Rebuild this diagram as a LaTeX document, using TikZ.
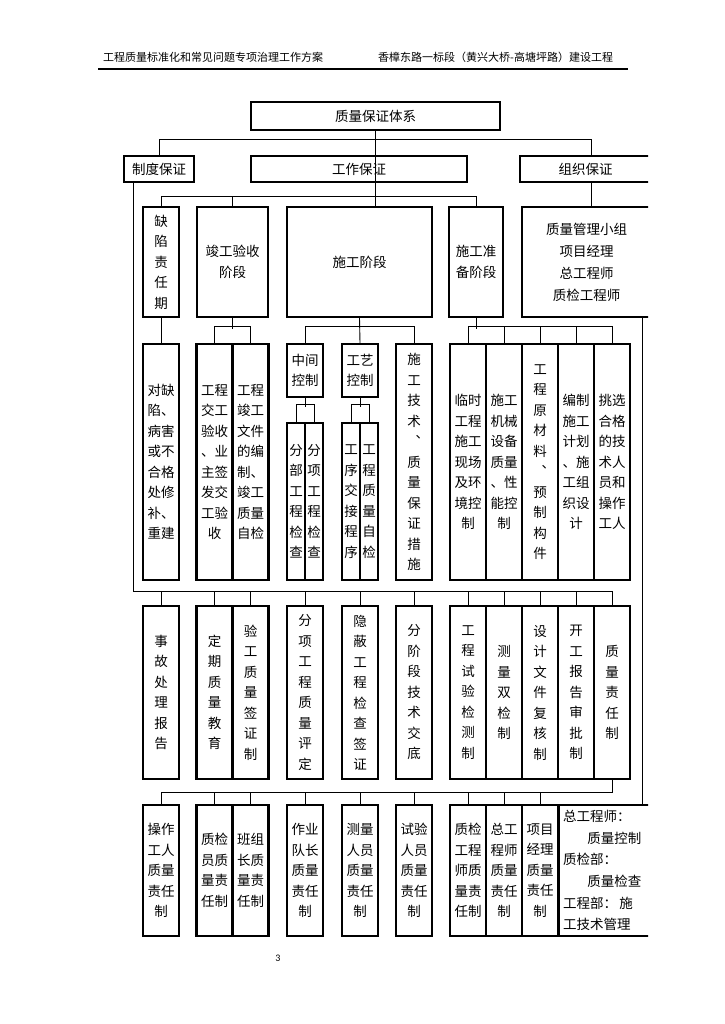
\documentclass[tikz,border=0pt]{standalone}
\usepackage{fontspec}
\newfontfamily\cjk{Noto Sans CJK SC}
\newfontfamily\numfont{Carlito}
\usetikzlibrary{positioning, calc}

\begin{document}
\begin{tikzpicture}[
    x=1pt, y=-1pt,
    box/.style={draw, line width=2.3pt, inner sep=0pt, align=center,
        font=\cjk\fontsize{13.5}{20.5}\selectfont},
    tall/.style={box, minimum width=36, minimum height=236},
    half/.style={box, minimum width=18, minimum height=157},
    mid/.style={box, minimum width=36, minimum height=173},
    low/.style={box, minimum width=36, minimum height=131},
    conn/.style={line width=0.9pt},
    head/.style={font=\cjk\fontsize{11}{13}\selectfont, inner sep=0pt},
]
\useasboundingbox (0,0) rectangle (724,1024);

% page header
\node[head, anchor=west] (doctitle) at (103,57) {工程质量标准化和常见问题专项治理工作方案};
\node[head, anchor=west] (project) at (378,57) {香樟东路一标段（黄兴大桥-高塘坪路）建设工程};
\coordinate (ruleL) at (98,69);
\coordinate (ruleR) at (628,69);
\draw[line width=1.4pt] (ruleL) -- (ruleR);

% top levels
\node[box, minimum width=249, minimum height=28] (tixi) at (375.5,116) {质量保证体系};
\node[box, minimum width=70, minimum height=26] (zhidu) at (159,169) {制度保证};
\node[box, minimum width=216, minimum height=26] (gongzuo) at (359,169) {工作保证};

% second level
\node[box, minimum width=36, minimum height=110] (quexian) at (161,262) {缺\\陷\\责\\任\\期};
\node[box, minimum width=71, minimum height=110] (jungong) at (232.5,262) {竣工验收\\阶段};
\node[box, minimum width=145, minimum height=110] (shigong) at (359.5,262) {施工阶段};
\node[box, minimum width=54, minimum height=110] (zhunbei) at (476,262) {施工准\\备阶段};

% right side is cut by the page edge
\begin{scope}
\clip (0,0) rectangle (648,1024);
\node[box, minimum width=131, minimum height=26] (zuzhi) at (585.5,169) {组织保证};
\node[box, minimum width=129, minimum height=110,
      font=\cjk\fontsize{13.5}{22}\selectfont] (xiaozu) at (586.5,262)
      {质量管理小组\\项目经理\\总工程师\\质检工程师};
\node[box, minimum width=92, minimum height=131, text width=84, align=left,
      font=\cjk\fontsize{13.5}{21.6}\selectfont] (zongfg) at (605,870.5)
      {总工程师：\\\hspace*{1.8em}质量控制\\质检部：\\\hspace*{1.8em}质量检查\\工程部：\,施\\工技术管理};
\end{scope}

% third level
\node[tall] (duiqx) at (161,462) {对缺\\陷、\\病害\\或不\\合格\\处修\\补、\\重建};
\node[tall] (jiaogong) at (214.5,462) {工程\\交工\\验收\\、业\\主签\\发交\\工验\\收};
\node[tall] (jgwenjian) at (250.5,462) {工程\\竣工\\文件\\的编\\制、\\竣工\\质量\\自检};
\node[box, minimum width=36, minimum height=53] (zhongjian) at (305,370.5) {中间\\控制};
\node[box, minimum width=36, minimum height=53] (gongyi) at (360,370.5) {工艺\\控制};
\node[half] (fenbu) at (296,501.5) {分\\部\\工\\程\\检\\查};
\node[half] (fenxiang) at (314,501.5) {分\\项\\工\\程\\检\\查};
\node[half] (gongxu) at (351,501.5) {工\\序\\交\\接\\程\\序};
\node[half] (zizhijian) at (369,501.5) {工\\程\\质\\量\\自\\检};
\node[tall] (jishu) at (414,462) {施\\工\\技\\术\\︑\\质\\量\\保\\证\\措\\施};
\node[tall] (linshi) at (468,462) {临时\\工程\\施工\\现场\\及环\\境控\\制};
\node[tall] (jixie) at (504,462) {施工\\机械\\设备\\质量\\、性\\能控\\制};
\node[tall] (cailiao) at (540,462) {工\\程\\原\\材\\料\\︑\\预\\制\\构\\件};
\node[tall] (jihua) at (576,462) {编制\\施工\\计划\\、施\\工组\\织设\\计};
\node[tall] (tiaoxuan) at (612,462) {挑选\\合格\\的技\\术人\\员和\\操作\\工人};

% fourth level
\node[mid] (shigu) at (161,692.5) {事\\故\\处\\理\\报\\告};
\node[mid] (dingqi) at (214.5,692.5) {定\\期\\质\\量\\教\\育};
\node[mid] (yangong) at (250.5,692.5) {验\\工\\质\\量\\签\\证\\制};
\node[mid] (pingding) at (305,692.5) {分\\项\\工\\程\\质\\量\\评\\定};
\node[mid] (yinbi) at (360,692.5) {隐\\蔽\\工\\程\\检\\查\\签\\证};
\node[mid] (jiaodi) at (414,692.5) {分\\阶\\段\\技\\术\\交\\底};
\node[mid] (shiyan) at (468,692.5) {工\\程\\试\\验\\检\\测\\制};
\node[mid] (shuangjian) at (504,692.5) {测\\量\\双\\检\\制};
\node[mid] (fuhe) at (540,692.5) {设\\计\\文\\件\\复\\核\\制};
\node[mid] (shenpi) at (576,692.5) {开\\工\\报\\告\\审\\批\\制};
\node[mid] (zeren) at (612,692.5) {质\\量\\责\\任\\制};

% fifth level
\node[low] (caozuo) at (161,870.5) {操作\\工人\\质量\\责任\\制};
\node[low] (zjyuan) at (214.5,870.5) {质检\\员质\\量责\\任制};
\node[low] (banzu) at (250.5,870.5) {班组\\长质\\量责\\任制};
\node[low] (zuoye) at (305,870.5) {作业\\队长\\质量\\责任\\制};
\node[low] (celiang) at (360,870.5) {测量\\人员\\质量\\责任\\制};
\node[low] (shiyanry) at (414,870.5) {试验\\人员\\质量\\责任\\制};
\node[low] (zjgcs) at (468,870.5) {质检\\工程\\师质\\量责\\任制};
\node[low] (zonggcs) at (504,870.5) {总工\\程师\\质量\\责任\\制};
\node[low] (xmjl) at (540,870.5) {项目\\经理\\质量\\责任\\制};

\node[font=\numfont\fontsize{10}{12}\selectfont] (pagenum) at (278,958) {3};

% connectors, top part
\draw[conn] (zhidu.north) -- ++(0,-15) -| ([xshift=6pt]zuzhi.north);
\draw[conn] (tixi.south) -- (tixi.south |- shigong.north);
\draw[conn] (quexian.north) -- ++(0,-9) -| (zhunbei.north);
\draw[conn] (jungong.north) -- ++(0,-9);
\draw[conn] ([xshift=6pt]zuzhi.south) -- ([xshift=6pt]zuzhi.south |- xiaozu.north);

% connectors to third level
\draw[conn] (quexian.south) -- (duiqx.north);
\draw[conn] (jungong.south) -- ++(0,11);
\draw[conn] (jiaogong.north) -- ++(0,-16) -| (jgwenjian.north);
\draw[conn] (shigong.south) -- (gongyi.north);
\draw[conn] (zhongjian.north) -- ++(0,-16) -| (jishu.north);
\draw[conn] (zhunbei.south) -- ++(0,11);
\draw[conn] (linshi.north) -- ++(0,-16) -| (tiaoxuan.north);
\foreach \n in {jixie,cailiao,jihua}
    \draw[conn] (\n.north) -- ++(0,-16);
\draw[conn] (zhongjian.south) -- ++(0,9);
\draw[conn] (fenbu.north) -- ++(0,-17) -| (fenxiang.north);
\draw[conn] (gongyi.south) -- ++(0,9);
\draw[conn] (gongxu.north) -- ++(0,-17) -| (zizhijian.north);

% long side lines and lower buses
\coordinate (bus5) at (612,591);
\coordinate (bus6) at (612,792);
\draw[conn] ([xshift=-26pt]zhidu.south) |- (bus5) -- (zeren.north);
\foreach \n in {shigu,dingqi,yangong,pingding,yinbi,jiaodi,shiyan,shuangjian,fuhe,shenpi}
    \draw[conn] (\n.north |- bus5) -- (\n.north |- zeren.north);
\draw[conn] (zeren.south) -- (bus6) -| (caozuo.north);
\foreach \n in {zjyuan,banzu,zuoye,celiang,shiyanry,zjgcs,zonggcs,xmjl}
    \draw[conn] (\n.north) -- (\n.north |- bus6);
\draw[conn] ([xshift=55.5pt]xiaozu.south) -- ([xshift=55.5pt]xiaozu.south |- zongfg.north);
\end{tikzpicture}
\end{document}
